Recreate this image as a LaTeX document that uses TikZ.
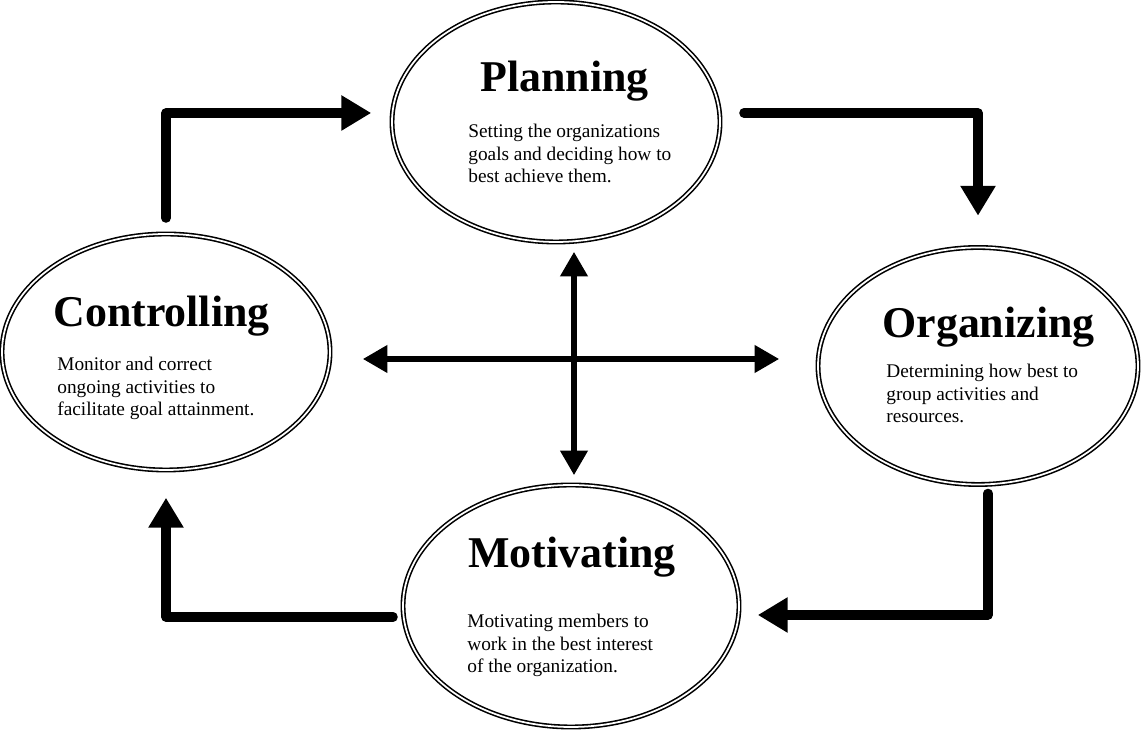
\documentclass[tikz,border=0pt]{standalone}
\usepackage{fontspec}
\setmainfont{Liberation Serif}
\usetikzlibrary{shapes.geometric,arrows.meta}

\begin{document}
\begin{tikzpicture}
	[
		phase/.style={ellipse,draw,double,line width=0.9pt,double distance=1.0pt,inner sep=0pt},
		heading/.style={anchor=base west,inner sep=0pt,font=\fontsize{25}{30}\selectfont\bfseries},
		desc/.style={anchor=north west,inner sep=0pt,align=left,font=\fontsize{11}{12.8}\selectfont},
		arrow/.style={-{Triangle[length=17pt,width=19pt]},line width=5.2pt,line cap=round,line join=round},
		link/.style={{Triangle[length=14pt,width=15pt]}-{Triangle[length=14pt,width=15pt]},line width=3.4pt}
	]

	\useasboundingbox (0,0) rectangle (22.84,14.76);

	% phases
	\node[phase,minimum width=6.56cm,minimum height=4.80cm] (plan) at ( 11.12, 12.32 ) {};
	\node[phase,minimum width=6.56cm,minimum height=4.72cm] (ctrl) at (  3.32,  7.72 ) {};
	\node[phase,minimum width=6.40cm,minimum height=4.74cm] (org)  at ( 19.56,  7.44 ) {};
	\node[phase,minimum width=6.72cm,minimum height=4.84cm] (mot)  at ( 11.42,  2.64 ) {};

	% phase titles
	\node[heading] (planT) at (  9.60, 12.92 ) {Planning};
	\node[heading] (ctrlT) at (  1.06,  8.22 ) {Controlling};
	\node[heading] (orgT)  at ( 17.64,  8.00 ) {Organizing};
	\node[heading] (motT)  at (  9.36,  3.40 ) {Motivating};

	% phase texts
	\node[desc] (planD) at (  9.36, 12.28 ) {Setting the organizations\\goals and deciding how to\\best achieve them.};
	\node[desc] (ctrlD) at (  1.14,  7.62 ) {Monitor and correct\\ongoing activities to\\facilitate goal attainment.};
	\node[desc] (orgD)  at ( 17.72,  7.48 ) {Determining how best to\\group activities and\\resources.};
	\node[desc] (motD)  at (  9.34,  2.48 ) {Motivating members to\\work in the best interest\\of the organization.};

	% cycle
	\draw[arrow,shorten <=0.30cm,shorten >=0.40cm] (ctrl.north) |- ([yshift=0.18cm]plan.west);
	\draw[arrow,shorten <=0.46cm,shorten >=0.62cm] ([yshift=0.18cm]plan.east) -| (org.north);
	\draw[arrow,shorten <=0.16cm,shorten >=0.36cm] ([xshift=0.2cm]org.south) |- ([yshift=-0.18cm]mot.east);
	\draw[arrow,shorten <=0.18cm,shorten >=0.54cm] ([yshift=-0.22cm]mot.west) -| (ctrl.south);

	% cross links
	\coordinate (hub) at ( 11.48, 7.58 );
	\draw[link,shorten <=0.18cm,shorten >=0.18cm] (hub |- plan.south) -- (hub |- mot.north);
	\draw[link,shorten <=0.64cm,shorten >=0.76cm] (hub -| ctrl.east) -- (hub -| org.west);

\end{tikzpicture}
\end{document}
